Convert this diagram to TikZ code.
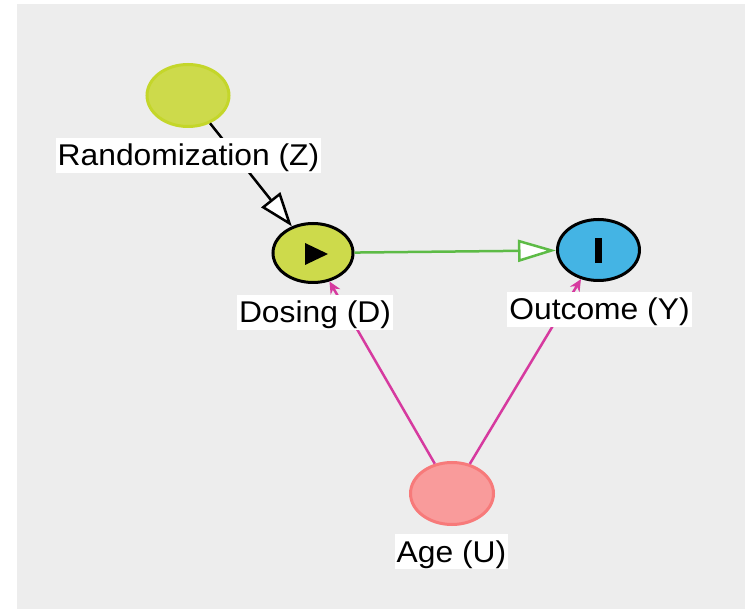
\documentclass[tikz,border=0pt]{standalone}
\usepackage{fontspec}
\setmainfont{Liberation Sans}[FakeStretch=1.06]
\usetikzlibrary{arrows.meta,shapes.geometric}
\definecolor{bgc}{HTML}{EDEDED}
\definecolor{zfill}{HTML}{CDDA4B}
\definecolor{zedge}{HTML}{C4D62A}
\definecolor{yfill}{HTML}{44B4E4}
\definecolor{ufill}{HTML}{F99B9B}
\definecolor{uedge}{HTML}{F77A7A}
\definecolor{greenline}{HTML}{5DBB46}
\definecolor{magline}{HTML}{D63A9F}
\begin{document}
\begin{tikzpicture}[x=1pt,y=-1pt,
  var/.style={ellipse, inner sep=0pt, line width=3pt},
  lbl/.style={fill=white, inner xsep=2pt, inner ysep=2pt, text height=26pt, text depth=5pt, anchor=base, font=\fontsize{30}{32}\selectfont},
  blackedge/.style={draw=black, line width=2.5pt, -{Triangle[length=34pt,width=24pt,fill=white,line width=2.5pt]}},
  greenedge/.style={draw=greenline, line width=2.5pt, -{Triangle[length=38pt,width=22pt,fill=white,line width=2.5pt]}},
  magedge/.style={draw=magline, line width=2.5pt, -{Stealth[length=12pt,width=11pt]}}
]
\useasboundingbox (0,0) rectangle (745,609);
\fill[white] (0,0) rectangle (745,609);
\fill[bgc] (17,4) rectangle (745,609);

\node[var, fill=zfill, draw=zedge, minimum width=82pt, minimum height=62pt] (Z) at (188,95.5) {};
\node[var, fill=zfill, draw=black, minimum width=80pt, minimum height=59pt] (D) at (313,253) {};
\node[var, fill=yfill, draw=black, minimum width=82pt, minimum height=61pt] (Y) at (598.5,250) {};
\node[var, fill=ufill, draw=uedge, minimum width=83pt, minimum height=62pt] (U) at (452,493.5) {};

\fill[black] (D.center) ++(-8,-10) -- ++(0,22) -- ++(23,-11) -- cycle;
\fill[black] (Y.center) ++(-3.5,-12) rectangle ++(7,25);

\draw[blackedge] (Z) -- (D);
\draw[greenedge] (D) -- (Y);
\draw[magedge] (U) -- (D);
\draw[magedge] (U) -- (Y);

\node[lbl] (Zl) at (188.5,166) {Randomization (Z)};
\node[lbl] (Dl) at (315,323) {Dosing (D)};
\node[lbl] (Yl) at (599.5,320) {Outcome (Y)};
\node[lbl] (Ul) at (451.5,562) {Age (U)};
\end{tikzpicture}
\end{document}
